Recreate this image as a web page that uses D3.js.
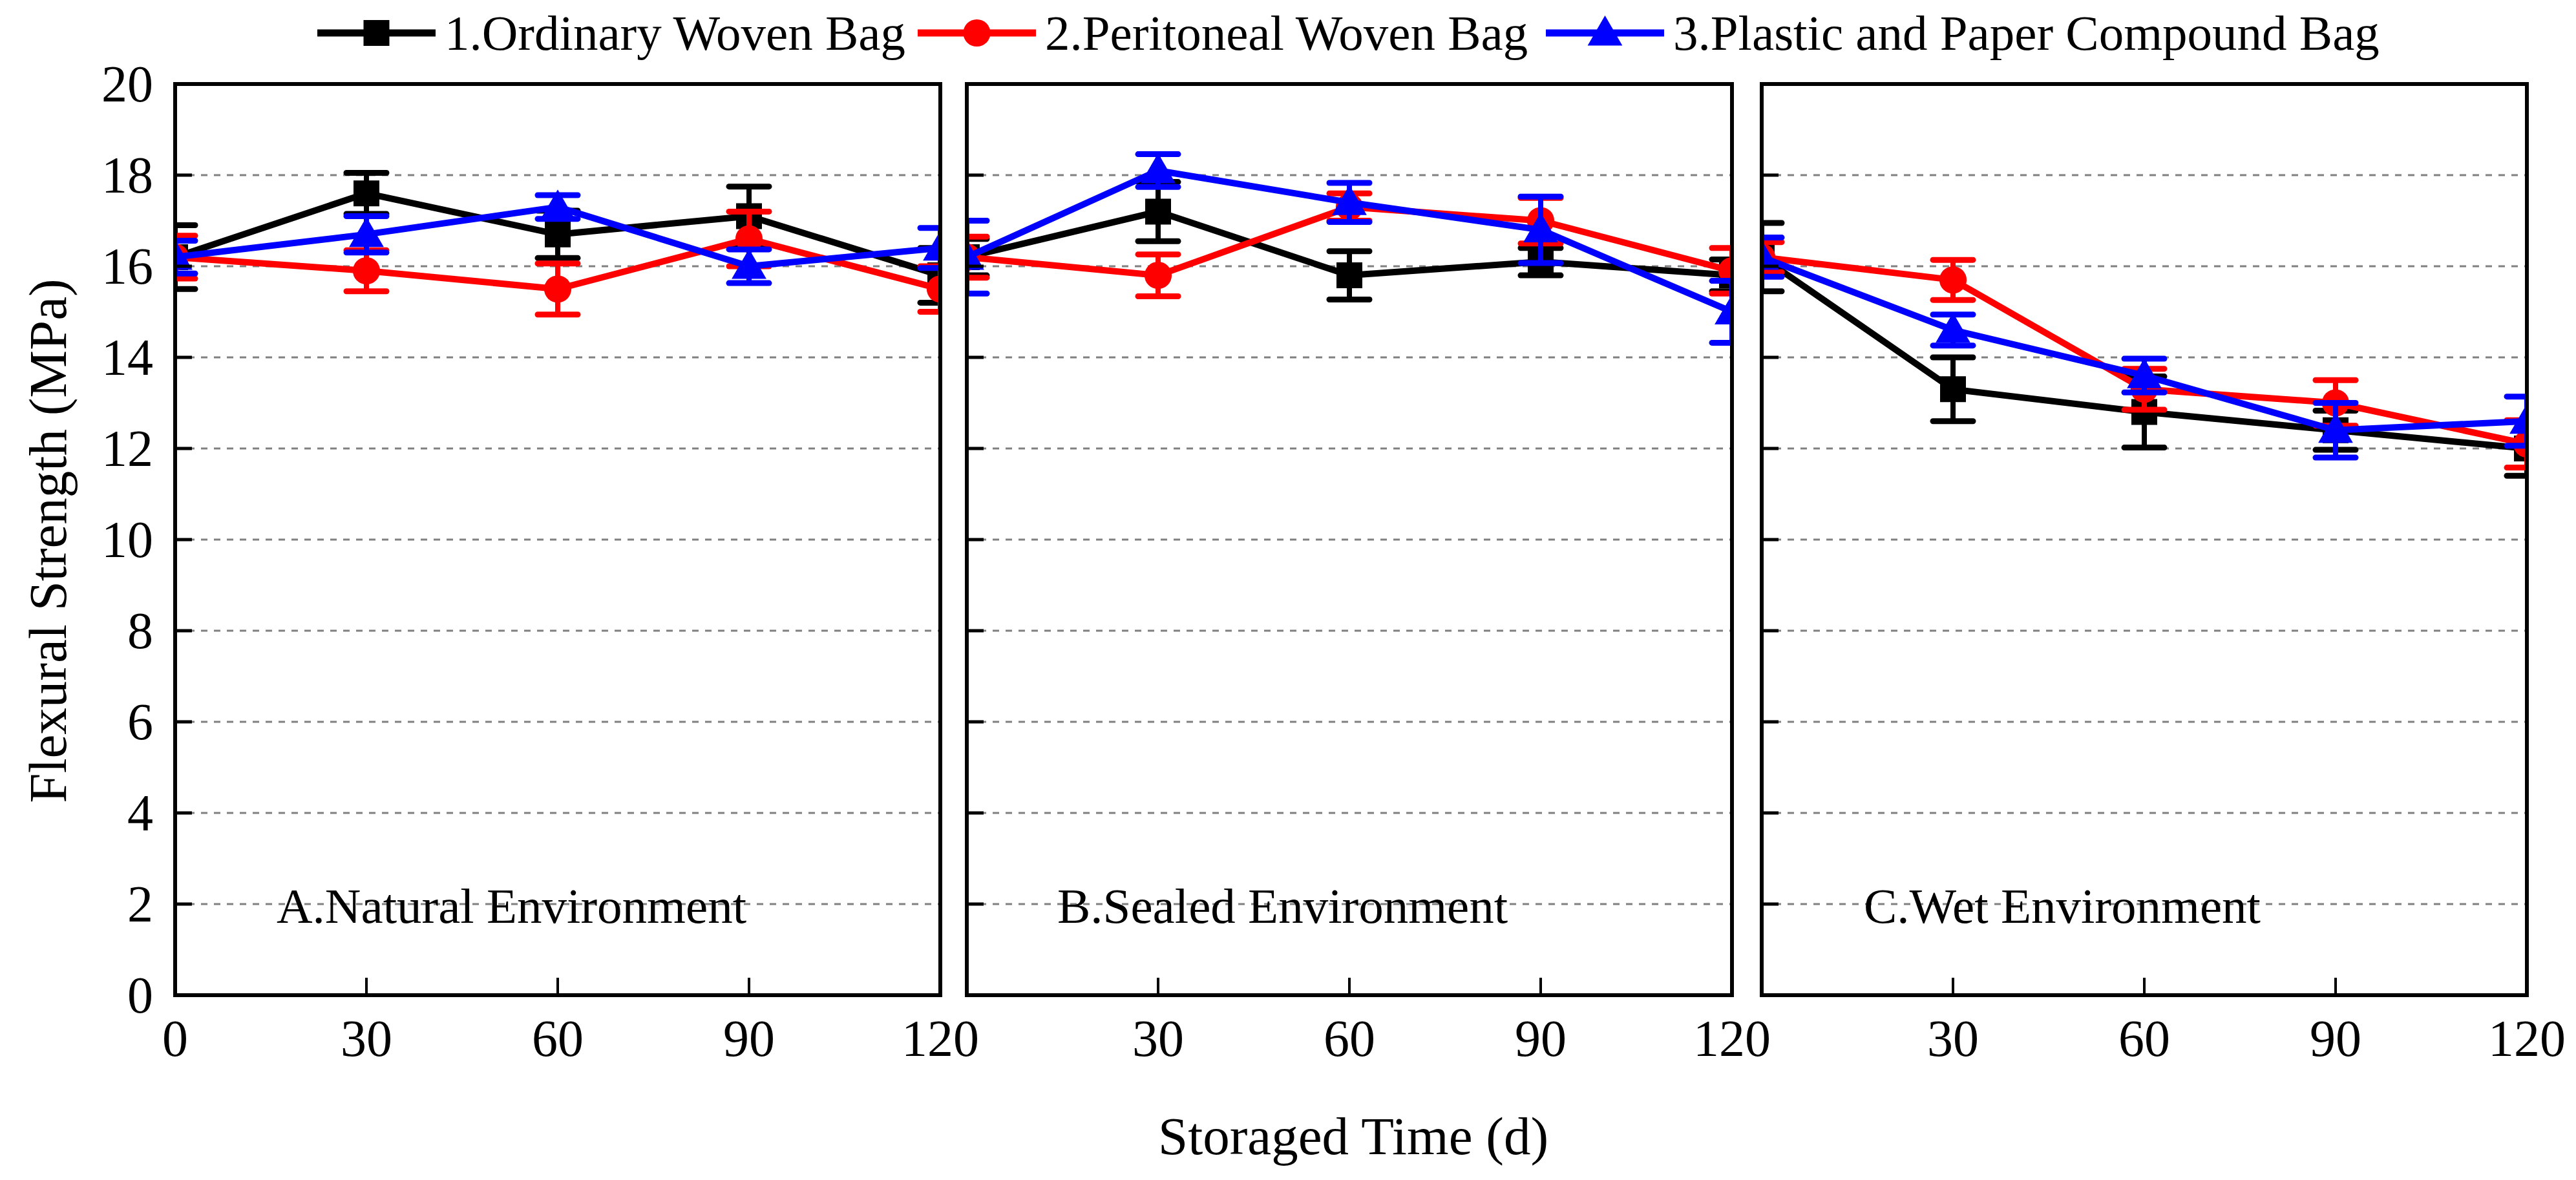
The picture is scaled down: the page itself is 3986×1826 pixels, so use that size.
<!DOCTYPE html>
<html><head><meta charset="utf-8">
<script src="https://cdn.jsdelivr.net/npm/d3@7"></script>
<style>body{margin:0;background:#fff}svg{display:block}</style>
</head><body>
<svg id="chart" width="3986" height="1826"></svg>
<script>
// ---------- data ----------
const timeTicks = [0, 30, 60, 90, 120];
const yTicks = [0, 2, 4, 6, 8, 10, 12, 14, 16, 18, 20];
const panelLabels = ["A.Natural Environment", "B.Sealed Environment", "C.Wet Environment"];
const seriesLabels = ["1.Ordinary Woven Bag", "2.Peritoneal Woven Bag", "3.Plastic and Paper Compound Bag"];
const seriesColors = ["#000000", "#ff0000", "#0000ff"];
const seriesSymbols = ["square", "circle", "triangle"];

// Panel A - Natural environment
const ordinaryA = [16.2, 17.6, 16.7, 17.1, 15.8];
const ordinaryAErr = [0.7, 0.45, 0.52, 0.65, 0.6];
const peritonealA = [16.2, 15.9, 15.5, 16.6, 15.5];
const peritonealAErr = [0.47, 0.45, 0.56, 0.6, 0.5];
const compoundA = [16.2, 16.7, 17.3, 16.0, 16.4];
const compoundAErr = [0.36, 0.4, 0.26, 0.37, 0.44];
// Panel B - Sealed environment
const ordinaryB = [16.2, 17.2, 15.8, 16.1, 15.8];
const ordinaryBErr = [0.4, 0.65, 0.53, 0.3, 0.35];
const peritonealB = [16.2, 15.8, 17.3, 17.0, 15.9];
const peritonealBErr = [0.45, 0.46, 0.3, 0.5, 0.5];
const compoundB = [16.2, 18.1, 17.4, 16.8, 15.0];
const compoundBErr = [0.8, 0.36, 0.43, 0.73, 0.68];
// Panel C - Wet environment
const ordinaryC = [16.2, 13.3, 12.8, 12.4, 12.0];
const ordinaryCErr = [0.75, 0.7, 0.78, 0.43, 0.6];
const peritonealC = [16.2, 15.7, 13.3, 13.0, 12.1];
const peritonealCErr = [0.33, 0.44, 0.45, 0.5, 0.52];
const compoundC = [16.2, 14.6, 13.6, 12.4, 12.6];
const compoundCErr = [0.43, 0.34, 0.37, 0.6, 0.54];

const panelMeans = [
  [ordinaryA, peritonealA, compoundA],
  [ordinaryB, peritonealB, compoundB],
  [ordinaryC, peritonealC, compoundC]
];
const panelErrs = [
  [ordinaryAErr, peritonealAErr, compoundAErr],
  [ordinaryBErr, peritonealBErr, compoundBErr],
  [ordinaryCErr, peritonealCErr, compoundCErr]
];

// ---------- layout ----------
const FONT = "'Liberation Serif','Times New Roman',serif";
const svg = d3.select("#chart");
svg.append("rect").attr("width", 3986).attr("height", 1826).attr("fill", "#fff");

const panelLeft = [271, 1496, 2726];
const panelW = 1184;
const plotTop = 130, plotBottom = 1540;
const labelOffset = [157, 140, 158];

const y = d3.scaleLinear().domain([0, 20]).range([plotBottom, plotTop]);

const symbolType = {
  square: d3.symbolSquare,
  circle: d3.symbolCircle,
  triangle: d3.symbolTriangle
};
const symbolSize = { square: 1600, circle: 1400, triangle: 1250 };

function drawMarker(g, type, cx, cy, color) {
  const p = d3.symbol().type(symbolType[type]).size(symbolSize[type])();
  const dy = type === "triangle" ? 4 : 0;
  g.append("path").attr("d", p)
    .attr("transform", `translate(${cx},${cy + dy})`)
    .attr("fill", color);
}

const defs = svg.append("defs");

panelLabels.forEach((label, pi) => {
  const left = panelLeft[pi];
  const x = d3.scaleLinear().domain([0, 120]).range([left, left + panelW]);
  const g = svg.append("g");

  const clipId = "clip" + pi;
  defs.append("clipPath").attr("id", clipId)
    .append("rect").attr("x", left).attr("y", plotTop).attr("width", panelW).attr("height", plotBottom - plotTop);

  // grid lines
  g.append("g").selectAll("line").data(yTicks.filter(v => v > 0 && v < 20)).join("line")
    .attr("x1", left).attr("x2", left + panelW)
    .attr("y1", d => y(d)).attr("y2", d => y(d))
    .attr("stroke", "#808080").attr("stroke-width", 3)
    .attr("stroke-dasharray", "10,10");

  // series
  const sg = g.append("g").attr("clip-path", `url(#${clipId})`);
  panelMeans[pi].forEach((vals, si) => {
    const color = seriesColors[si];
    const errs = panelErrs[pi][si];
    const line = d3.line().x((d, i) => x(timeTicks[i])).y(d => y(d));
    sg.append("path").datum(vals).attr("d", line)
      .attr("fill", "none").attr("stroke", color).attr("stroke-width", 10)
      .attr("stroke-linejoin", "round");
    vals.forEach((v, i) => {
      const cx = x(timeTicks[i]);
      const hi = y(v + errs[i]), lo = y(v - errs[i]);
      sg.append("line").attr("x1", cx).attr("x2", cx).attr("y1", hi).attr("y2", lo)
        .attr("stroke", color).attr("stroke-width", 8);
      [hi, lo].forEach(yy => {
        sg.append("line").attr("x1", cx - 31).attr("x2", cx + 31).attr("y1", yy).attr("y2", yy)
          .attr("stroke", color).attr("stroke-width", 9).attr("stroke-linecap", "round");
      });
      drawMarker(sg, seriesSymbols[si], cx, y(v), color);
    });
  });

  // frame
  g.append("rect").attr("x", left).attr("y", plotTop).attr("width", panelW).attr("height", plotBottom - plotTop)
    .attr("fill", "none").attr("stroke", "#000").attr("stroke-width", 6);

  // y ticks (inward)
  g.append("g").selectAll("line").data(yTicks).join("line")
    .attr("x1", left).attr("x2", left + 26)
    .attr("y1", d => y(d)).attr("y2", d => y(d))
    .attr("stroke", "#000").attr("stroke-width", 5);

  // x ticks (inward)
  g.append("g").selectAll("line").data(timeTicks.filter(t => t > 0 && t < 120)).join("line")
    .attr("x1", d => x(d)).attr("x2", d => x(d))
    .attr("y1", plotBottom).attr("y2", plotBottom - 27)
    .attr("stroke", "#000").attr("stroke-width", 4);

  // x tick labels
  const xl = pi === 0 ? timeTicks : timeTicks.filter(t => t > 0);
  g.append("g").selectAll("text").data(xl).join("text")
    .attr("x", d => x(d)).attr("y", 1634)
    .attr("text-anchor", "middle")
    .attr("font-family", FONT).attr("font-size", 80)
    .text(d => d);

  if (pi === 0) {
    g.append("g").selectAll("text").data(yTicks).join("text")
      .attr("x", 237).attr("y", d => y(d) + 27)
      .attr("text-anchor", "end")
      .attr("font-family", FONT).attr("font-size", 80)
      .text(d => d);
  }

  g.append("text").attr("x", left + labelOffset[pi]).attr("y", 1428)
    .attr("font-family", FONT).attr("font-size", 77).text(label);
});

// axis titles
svg.append("text").attr("transform", "translate(102,837) rotate(-90)")
  .attr("text-anchor", "middle").attr("font-family", FONT).attr("font-size", 83)
  .text("Flexural Strength (MPa)");
svg.append("text").attr("x", 2094).attr("y", 1786)
  .attr("text-anchor", "middle").attr("font-family", FONT).attr("font-size", 83)
  .text("Storaged Time (d)");

// legend
const legendLineStart = [491, 1420, 2392];
const legendG = svg.append("g");
seriesLabels.forEach((lab, si) => {
  const x0 = legendLineStart[si], x1 = x0 + 183, cy = 51;
  legendG.append("line").attr("x1", x0).attr("x2", x1).attr("y1", cy).attr("y2", cy)
    .attr("stroke", seriesColors[si]).attr("stroke-width", 11);
  drawMarker(legendG, seriesSymbols[si], (x0 + x1) / 2, cy, seriesColors[si]);
  legendG.append("text").attr("x", x1 + 14).attr("y", 77)
    .attr("font-family", FONT).attr("font-size", 77).text(lab);
});
</script>
</body></html>
